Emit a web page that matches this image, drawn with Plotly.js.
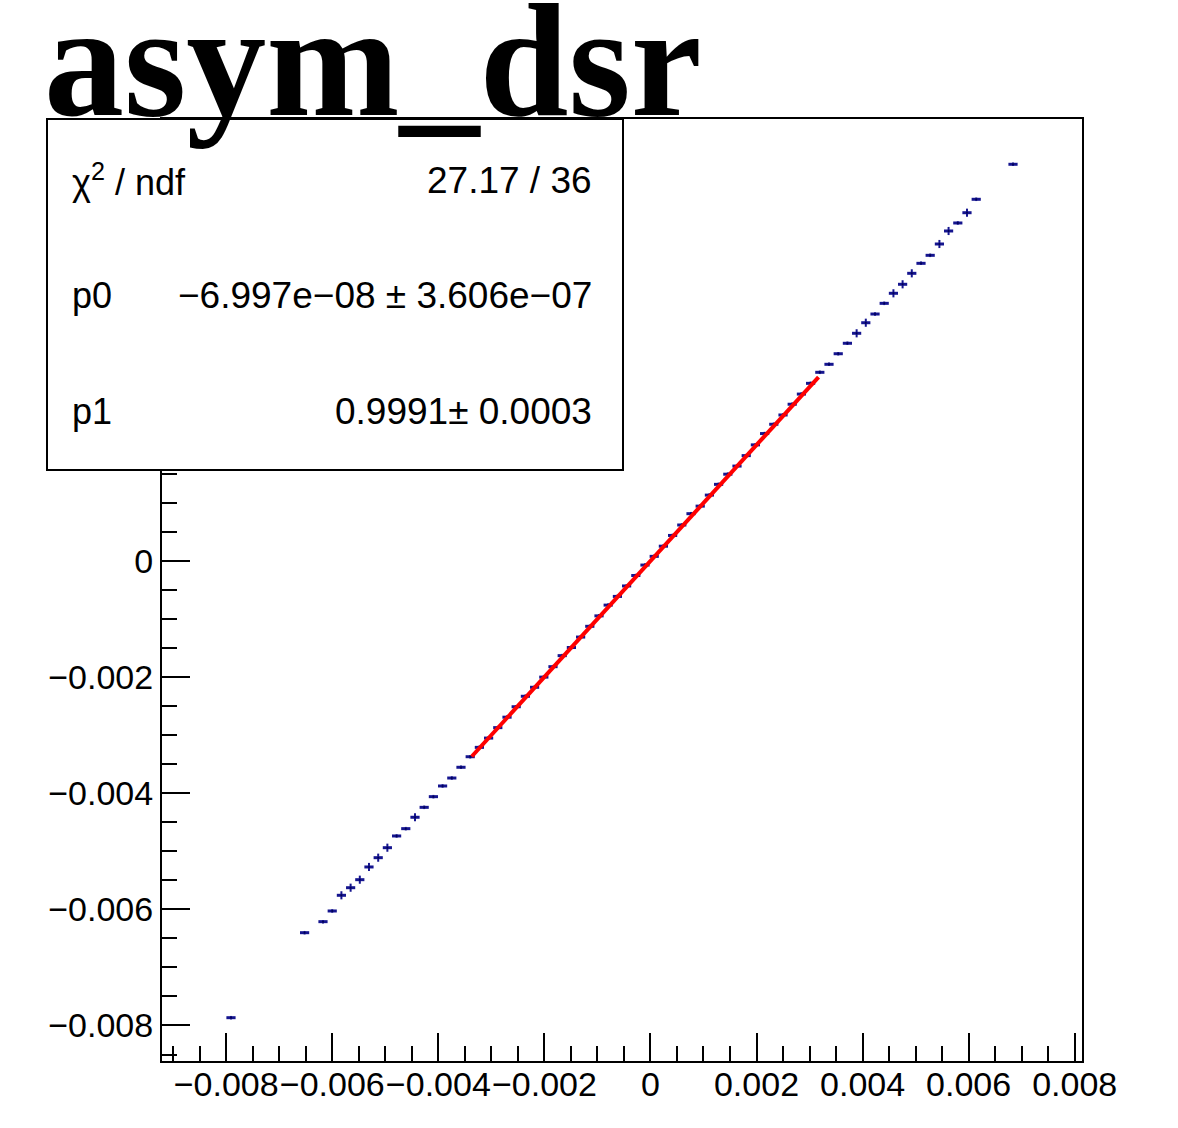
<!DOCTYPE html>
<html>
<head>
<meta charset="utf-8">
<script src="https://cdn.plot.ly/plotly-3.0.1.min.js"></script>
<style>html,body{margin:0;padding:0;background:#fff;}#chart{width:1178px;height:1128px;}</style>
</head>
<body>
<div id="chart"></div>
<script>
// Profile bin centres (x) and mean values (y)
const binX = [
  -0.007910, -0.006522, -0.006175, -0.006001, -0.005828, -0.005654, -0.005481, -0.005308,
  -0.005134, -0.004961, -0.004787, -0.004614, -0.004440, -0.004267, -0.004093, -0.003920,
  -0.003746, -0.003573, -0.003399, -0.003226, -0.003052, -0.002879, -0.002705, -0.002532,
  -0.002358, -0.002185, -0.002011, -0.001838, -0.001664, -0.001491, -0.001317, -0.001144,
  -0.000970, -0.000797, -0.000623, -0.000450, -0.000276, -0.000103, 0.000071, 0.000244,
  0.000418, 0.000591, 0.000765, 0.000938, 0.001112, 0.001285, 0.001459, 0.001632,
  0.001806, 0.001979, 0.002153, 0.002326, 0.002500, 0.002673, 0.002847, 0.003020,
  0.003194, 0.003367, 0.003541, 0.003714, 0.003888, 0.004061, 0.004235, 0.004408,
  0.004582, 0.004755, 0.004928, 0.005102, 0.005275, 0.005449, 0.005622, 0.005796,
  0.005969, 0.006143, 0.006837
];
const profY = [
  -0.007866, -0.006402, -0.006212, -0.006028, -0.005758, -0.005627, -0.005489, -0.005270,
  -0.005110, -0.004938, -0.004736, -0.004610, -0.004414, -0.004243, -0.004059, -0.003875,
  -0.003738, -0.003553, -0.003371, -0.003210, -0.003050, -0.002870, -0.002690, -0.002510,
  -0.002330, -0.002175, -0.002000, -0.001820, -0.001630, -0.001490, -0.001310, -0.001125,
  -0.000945, -0.000760, -0.000610, -0.000430, -0.000250, -0.000070, 0.000080, 0.000255,
  0.000440, 0.000620, 0.000815, 0.000945, 0.001135, 0.001320, 0.001495, 0.001635,
  0.001815, 0.002000, 0.002195, 0.002355, 0.002515, 0.002700, 0.002875, 0.003060,
  0.003250, 0.003388, 0.003570, 0.003750, 0.003922, 0.004104, 0.004254, 0.004438,
  0.004611, 0.004766, 0.004955, 0.005127, 0.005265, 0.005460, 0.005684, 0.005822,
  0.005999, 0.006230, 0.006833
];
const profErr = [
  0.00003, 0.00003, 0.00003, 0.00003, 0.00007, 0.00007, 0.00007, 0.00007,
  0.00007, 0.00007, 0.00003, 0.00003, 0.00007, 0.00003, 0.00003, 0.00003,
  0.00003, 0.00003, 0.00003, 0.00003, 0.00003, 0.00003, 0.00003, 0.00003,
  0.00003, 0.00003, 0.00003, 0.00003, 0.00003, 0.00003, 0.00003, 0.00003,
  0.00003, 0.00003, 0.00003, 0.00003, 0.00003, 0.00003, 0.00003, 0.00003,
  0.00003, 0.00003, 0.00003, 0.00003, 0.00003, 0.00003, 0.00003, 0.00003,
  0.00003, 0.00003, 0.00003, 0.00003, 0.00003, 0.00003, 0.00003, 0.00003,
  0.00003, 0.00003, 0.00003, 0.00003, 0.00007, 0.00007, 0.00003, 0.00003,
  0.00007, 0.00007, 0.00007, 0.00003, 0.00003, 0.00007, 0.00007, 0.00003,
  0.00007, 0.00003, 0.00003
];
const binHalfWidth = 0.0000867;
// Fit line pol1: p0 + p1*x over the fit range
const fitX = [-0.00337, 0.00317];
const fitY = [-0.003367, 0.003167];
// Axis tick labels
const xTickVals = [-0.008, -0.006, -0.004, -0.002, 0, 0.002, 0.004, 0.006, 0.008];
const xTickText = ['−0.008', '−0.006', '−0.004', '−0.002', '0', '0.002', '0.004', '0.006', '0.008'];
const yTickVals = [-0.008, -0.006, -0.004, -0.002, 0];
const yTickText = ['−0.008', '−0.006', '−0.004', '−0.002', '0'];
// Stats box content
const statLabels = ['χ<sup>2</sup> / ndf', 'p0', 'p1'];
const statValues = ['27.17 / 36', '−6.997e−08 ± 3.606e−07', '0.9991± 0.0003'];
const titleText = 'asym_dsr';

const profileTrace = {
  x: binX, y: profY, type: 'scatter', mode: 'markers',
  marker: {size: 2, color: '#000050'},
  error_x: {type: 'constant', value: binHalfWidth, width: 0, thickness: 3, color: '#15158f'},
  error_y: {type: 'data', array: profErr, visible: true, width: 0, thickness: 2, color: '#15158f'},
  hoverinfo: 'skip', showlegend: false
};
const fitTrace = {
  x: fitX, y: fitY, type: 'scatter', mode: 'lines',
  line: {color: '#ff0000', width: 4}, hoverinfo: 'skip', showlegend: false
};

const L = 162, R = 1082, T = 119, B = 1061;
const W = 1178, H = 1128;
const px = v => (v - L) / (R - L);
const py = v => (B - v) / (B - T);

const tickFont = {family: 'Liberation Sans, Arial, sans-serif', size: 34, color: '#000'};
const axisCommon = {
  showgrid: false, zeroline: false, showline: true, linecolor: '#000', linewidth: 2,
  mirror: true, ticks: 'inside', ticklen: 28, tickwidth: 2, tickcolor: '#000',
  tickfont: tickFont, tickmode: 'array', tickangle: 0,
  minor: {tickmode: 'linear', tick0: 0, dtick: 0.0005, ticks: 'inside', ticklen: 15, tickwidth: 2, tickcolor: '#000', showgrid: false}
};

const annotations = [];
const rowsY = [180, 295, 411];
for (let i = 0; i < statLabels.length; i++) {
  annotations.push({xref: 'paper', yref: 'paper', x: px(70), y: py(rowsY[i]), xanchor: 'left', yanchor: 'middle',
    text: statLabels[i], showarrow: false, font: {family: 'Liberation Sans, Arial, sans-serif', size: 36, color: '#000'}});
  annotations.push({xref: 'paper', yref: 'paper', x: px(594), y: py(rowsY[i]), xanchor: 'right', yanchor: 'middle',
    text: statValues[i], showarrow: false, font: {family: 'Liberation Sans, Arial, sans-serif', size: 37, color: '#000'}});
}
annotations.push({xref: 'paper', yref: 'paper', x: px(42), y: py(152), xanchor: 'left', yanchor: 'bottom',
  text: '<b>' + titleText + '</b>', showarrow: false,
  font: {family: 'Liberation Serif, Times New Roman, serif', size: 160, color: '#000'}});

const layout = {
  width: W, height: H,
  margin: {l: L, r: W - R, t: T, b: H - B, pad: 0},
  paper_bgcolor: '#fff', plot_bgcolor: '#fff',
  xaxis: Object.assign({}, axisCommon, {range: [-0.009211, 0.008138], tickvals: xTickVals, ticktext: xTickText, ticklabelstandoff: -8}),
  yaxis: Object.assign({}, axisCommon, {range: [-0.008612, 0.007613], tickvals: yTickVals, ticktext: yTickText}),
  shapes: [{type: 'rect', xref: 'paper', yref: 'paper', x0: px(47), x1: px(623), y0: py(470), y1: py(119),
    fillcolor: '#fff', line: {color: '#000', width: 2}, layer: 'above'}],
  annotations: annotations,
  showlegend: false
};

Plotly.newPlot('chart', [profileTrace, fitTrace], layout, {displayModeBar: false, staticPlot: true});
</script>
</body>
</html>
